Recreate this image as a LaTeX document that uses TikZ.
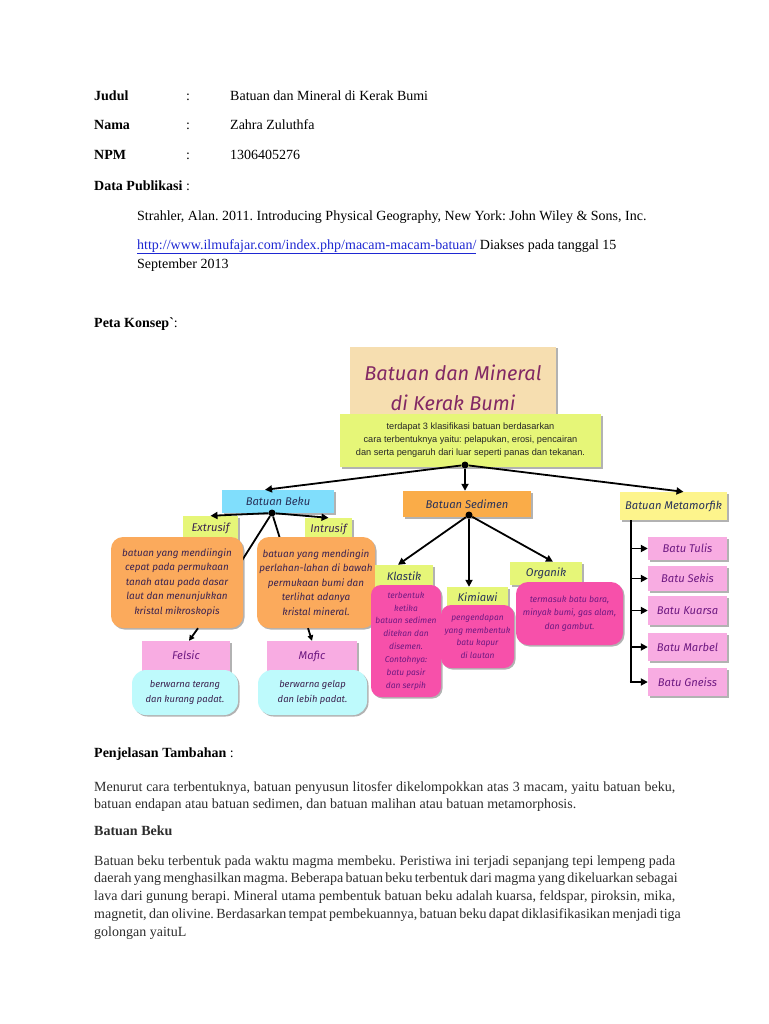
\documentclass[tikz,border=0pt]{standalone}
\usepackage{fontspec}
\setmainfont{Liberation Serif}
\newfontfamily\hand{Fira Sans}
\newfontfamily\tah{Liberation Sans}
\usetikzlibrary{arrows.meta,shadows,calc}
\definecolor{beige}{RGB}{246,222,176}
\definecolor{lime}{RGB}{230,246,120}
\definecolor{skyc}{RGB}{128,222,252}
\definecolor{sedc}{RGB}{250,172,72}
\definecolor{metc}{RGB}{253,244,140}
\definecolor{orbox}{RGB}{251,170,92}
\definecolor{hotpink}{RGB}{247,80,170}
\definecolor{lpink}{RGB}{248,172,226}
\definecolor{lcyan}{RGB}{190,250,252}
\definecolor{tpurple}{RGB}{110,25,130}
\definecolor{tdark}{RGB}{60,35,80}
\definecolor{tnavy}{RGB}{40,50,90}
\definecolor{titlec}{RGB}{130,40,100}
\definecolor{linkblue}{RGB}{30,40,210}
\definecolor{bodygray}{RGB}{45,45,45}
\begin{document}
\frenchspacing
\begin{tikzpicture}[x=1pt,y=-1pt,
  doc/.style={anchor=base west, inner sep=0pt, font=\fontsize{14}{17.5}\selectfont},
  sticky/.style={inner sep=0pt, align=center, drop shadow={shadow xshift=1.5pt, shadow yshift=-1.5pt, opacity=0.3, fill=black}},
  lbl/.style={sticky, font=\hand\itshape\fontsize{11.2}{13}\selectfont},
  rbox/.style={sticky, rounded corners=12pt},
  arr/.style={line width=1.8pt, -{Triangle[length=7pt,width=7pt]}},
  sarr/.style={line width=1.8pt, -{Triangle[length=5.5pt,width=5.5pt]}},
  ln/.style={line width=1.8pt},
  bdot/.style={circle, fill=black, inner sep=0pt, minimum size=7pt}
]
\path[use as bounding box, fill=white] (0,0) rectangle (768,1024);

% ---------- header text ----------
\node[doc] (judul) at (94,101) {\textbf{Judul}};
\node[doc] (c1) at (186,101) {:};
\node[doc] (v1) at (230,101) {Batuan dan Mineral di Kerak Bumi};
\node[doc] (nama) at (94,130) {\textbf{Nama}};
\node[doc] (c2) at (186,130) {:};
\node[doc] (v2) at (230,130) {Zahra Zuluthfa};
\node[doc] (npm) at (94,160) {\textbf{NPM}};
\node[doc] (c3) at (186,160) {:};
\node[doc] (v3) at (230,160) {1306405276};
\node[doc] (dp) at (94,191) {\textbf{Data Publikasi} :};
\node[doc] (ref1) at (137,221) {Strahler, Alan. 2011. Introducing Physical Geography, New York: John Wiley \& Sons, Inc.};
\node[doc] (ref2) at (137,249) {\textcolor{linkblue}{\underline{http://www.ilmufajar.com/index.php/macam-macam-batuan/}} Diakses pada tanggal 15};
\node[doc] (ref3) at (137,268) {September 2013};
\node[doc] (peta) at (94,327) {\textbf{Peta Konsep\textasciigrave}:};

% ---------- concept map ----------
\node[sticky, fill=beige, minimum width=206pt, minimum height=83pt, text=titlec,
      font=\hand\itshape\fontsize{20}{30}\selectfont] (title) at (453,388) {Batuan dan Mineral\\di Kerak Bumi};
\node[sticky, fill=lime, minimum width=261pt, minimum height=53pt, text=black!85,
      font=\tah\fontsize{9.2}{13}\selectfont] (green) at (470.5,440.5)
      {terdapat 3 klasifikasi batuan berdasarkan\\cara terbentuknya yaitu: pelapukan, erosi, pencairan\\dan serta pengaruh dari luar seperti panas dan tekanan.};

\node[lbl, fill=skyc, minimum width=112pt, minimum height=23pt, text=tnavy] (beku) at (278,501.5) {Batuan Beku};
\node[lbl, fill=sedc, minimum width=128pt, minimum height=26pt, text=tnavy] (sedimen) at (467,504) {Batuan Sedimen};
\node[lbl, fill=metc, minimum width=107pt, minimum height=28pt, text=tnavy] (meta) at (673.5,506) {Batuan Metamorfik};

\node[bdot] (gdot) at (465,465) {};
\draw[arr] (gdot) -- ($(beku.north)+(-13,0)$);
\draw[arr] (gdot) -- (sedimen.north -| gdot);
\draw[arr] (gdot) -- ($(meta.north)+(10,0)$);

% Batuan Beku branch
\node[lbl, fill=lime, minimum width=55pt, minimum height=24pt, text=tdark] (extr) at (210.5,528) {\raisebox{2pt}{Extrusif}};
\node[lbl, fill=lime, minimum width=47pt, minimum height=22pt, text=tdark] (intr) at (328.5,529) {\raisebox{2pt}{Intrusif}};
\node[bdot] (kdot) at (272,513) {};
\draw[arr] (kdot) -- (extr.north);
\draw[arr] (kdot) -- (intr.north);
\draw[ln] (kdot) -- (241,562);
\draw[ln] (kdot) -- (282,545);
\node[rbox, fill=orbox, minimum width=132pt, minimum height=91pt, text=tdark,
      font=\hand\itshape\fontsize{9.9}{14.5}\selectfont] (orL) at (177,582.5)
      {batuan yang mendiingin\\cepat pada permukaan\\tanah atau pada dasar\\laut dan menunjukkan\\kristal mikroskopis};
\node[rbox, fill=orbox, minimum width=118pt, minimum height=91pt, text=tdark,
      font=\hand\itshape\fontsize{9.9}{14.5}\selectfont] (orR) at (316,582.5)
      {batuan yang mendingin\\perlahan-lahan di bawah\\permukaan bumi dan\\terlihat adanya\\kristal mineral.};

\node[lbl, fill=lpink, minimum width=88pt, minimum height=32pt, text=tpurple] (felsic) at (186,657) {\raisebox{4pt}{Felsic}};
\node[lbl, fill=lpink, minimum width=90pt, minimum height=32pt, text=tpurple] (mafic) at (312,657) {\raisebox{4pt}{Mafic}};
\draw[sarr] ($(orL.south)+(21,0)$) -- ($(felsic.north)+(3,0)$);
\draw[sarr] ($(orR.south)+(-8,0)$) -- (mafic.north);
\node[rbox, rounded corners=14pt, fill=lcyan, minimum width=106pt, minimum height=45pt, text=tdark,
      font=\hand\itshape\fontsize{9.4}{15}\selectfont] (felsd) at (185,692.5) {berwarna terang\\dan kurang padat.};
\node[rbox, rounded corners=14pt, fill=lcyan, minimum width=109pt, minimum height=45pt, text=tdark,
      font=\hand\itshape\fontsize{9.4}{15}\selectfont] (mafd) at (312.5,692.5) {berwarna gelap\\dan lebih padat.};

% Batuan Sedimen branch
\node[lbl, fill=lime, minimum width=58pt, minimum height=25pt, text=tnavy] (klastik) at (404,577.5) {\raisebox{3pt}{Klastik}};
\node[lbl, fill=lime, minimum width=61pt, minimum height=23pt, text=tnavy] (kimia) at (477.5,598.5) {\raisebox{2pt}{Kimiawi}};
\node[lbl, fill=lime, minimum width=72pt, minimum height=23pt, text=tnavy] (organik) at (546,573.5) {\raisebox{2pt}{Organik}};
\node[bdot] (sdot) at (469,515) {};
\draw[arr] (sdot) -- ($(klastik.north)+(-6,0)$);
\draw[arr] (sdot) -- (kimia.north -| sdot);
\draw[arr] (sdot) -- ($(organik.north)+(7,0)$);
\node[rbox, rounded corners=10pt, fill=hotpink, minimum width=70pt, minimum height=112pt, text=tpurple,
      font=\hand\itshape\fontsize{8.4}{12.9}\selectfont] (klasd) at (406,641)
      {terbentuk\\ketika\\batuan sedimen\\ditekan dan\\disemen.\\Contohnya:\\batu pasir\\dan serpih};
\node[rbox, rounded corners=10pt, fill=hotpink, minimum width=73pt, minimum height=63pt, text=tpurple,
      font=\hand\itshape\fontsize{8.4}{12.7}\selectfont] (kimd) at (477.5,636.5)
      {pengendapan\\yang membentuk\\batu kapur\\di lautan};
\node[rbox, rounded corners=12pt, fill=hotpink, minimum width=107pt, minimum height=63pt, text=tpurple,
      font=\hand\itshape\fontsize{8.7}{13.5}\selectfont] (orgd) at (569.5,613.5)
      {termasuk batu bara,\\minyak bumi, gas alam,\\dan gambut.};

% Batuan Metamorfik branch
\node[lbl, fill=lpink, minimum width=79pt, minimum height=23pt, text=tpurple] (tulis) at (687.5,548.5) {Batu Tulis};
\node[lbl, fill=lpink, minimum width=79pt, minimum height=25pt, text=tpurple] (sekis) at (687.5,578.5) {Batu Sekis};
\node[lbl, fill=lpink, minimum width=79pt, minimum height=29pt, text=tpurple] (kuarsa) at (687.5,610.5) {Batu Kuarsa};
\node[lbl, fill=lpink, minimum width=79pt, minimum height=28pt, text=tpurple] (marbel) at (687.5,647) {Batu Marbel};
\node[lbl, fill=lpink, minimum width=79pt, minimum height=28pt, text=tpurple] (gneiss) at (687.5,682) {Batu Gneiss};
\coordinate (mtop) at ($(meta.south west)+(11,0)$);
\draw[ln] (mtop) -- (mtop |- gneiss.west);
\draw[arr] (mtop |- tulis.west) -- (tulis.west);
\draw[arr] (mtop |- sekis.west) -- (sekis.west);
\draw[arr] (mtop |- kuarsa.west) -- (kuarsa.west);
\draw[arr] (mtop |- marbel.west) -- (marbel.west);
\draw[arr] ($(mtop |- gneiss.west)+(-0.9,0)$) -- (gneiss.west);

% ---------- lower text ----------
\node[doc] (pt) at (94,757) {\textbf{Penjelasan Tambahan} :};
\node[doc, text=bodygray] (p1) at (94,791) {\parbox[t]{581pt}{%
\makebox[581pt][s]{Menurut cara terbentuknya, batuan penyusun litosfer dikelompokkan atas 3 macam, yaitu batuan beku,}\\
batuan endapan atau batuan sedimen, dan batuan malihan atau batuan metamorphosis.}};
\node[doc, text=bodygray] (bb) at (94,835) {\textbf{Batuan Beku}};
\node[doc, text=bodygray, font=\fontsize{14}{17.8}\selectfont] (p2) at (94,865) {\parbox[t]{581pt}{%
\makebox[581pt][s]{Batuan beku terbentuk pada waktu magma membeku. Peristiwa ini terjadi sepanjang tepi lempeng pada}\\
\makebox[581pt][s]{daerah yang menghasilkan magma. Beberapa batuan beku terbentuk dari magma yang dikeluarkan sebagai}\\
\makebox[581pt][s]{lava dari gunung berapi. Mineral utama pembentuk batuan beku adalah kuarsa, feldspar, piroksin, mika,}\\
\makebox[581pt][s]{magnetit, dan olivine. Berdasarkan tempat pembekuannya, batuan beku dapat diklasifikasikan menjadi tiga}\\
golongan yaituL}};
\end{tikzpicture}
\end{document}
